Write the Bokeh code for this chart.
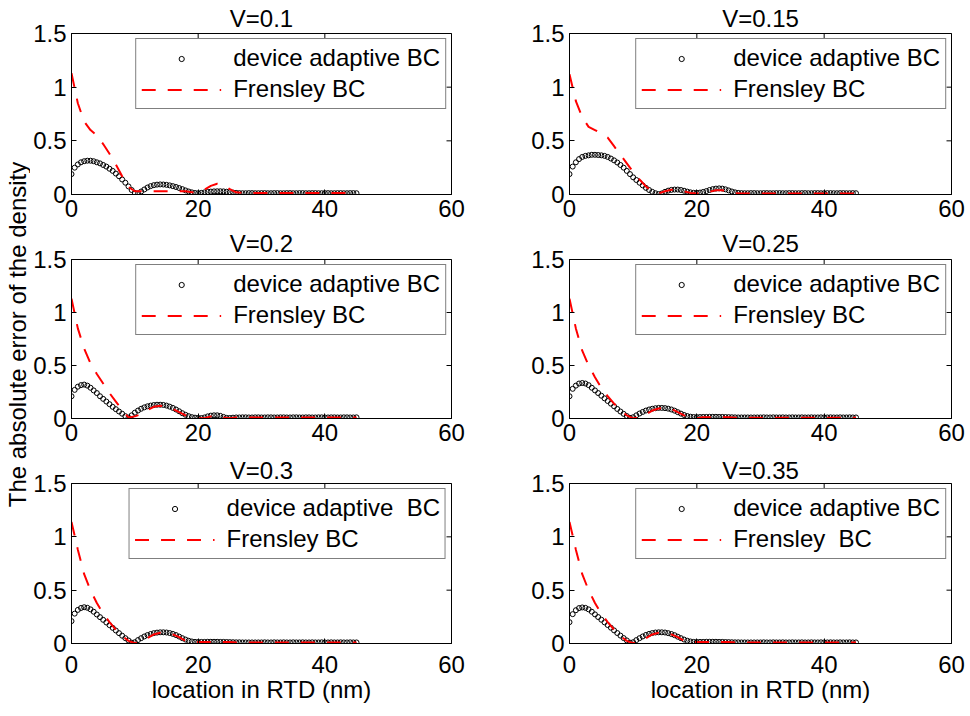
import math

from bokeh.embed import file_html
from bokeh.layouts import column, row
from bokeh.models import FixedTicker, Label, Legend, LegendItem, NumeralTickFormatter
from bokeh.plotting import figure
from bokeh.resources import INLINE

FONT = "Liberation Sans"
FS = "24px"

# ---- sample positions (nm) ----
adaptive_x = [
    0, 0.5, 1, 1.5, 2, 2.5, 3, 3.5, 4, 4.5, 5, 5.5, 6, 6.5, 7, 7.5, 8, 8.5, 9, 9.5,
    10, 10.5, 11, 11.5, 12, 12.5, 13, 13.5, 14, 14.5, 15, 15.5, 16, 16.5, 17, 17.5,
    18, 18.5, 19, 19.5, 20, 20.5, 21, 21.5, 22, 22.5, 23, 23.5, 24, 24.5, 25, 25.5,
    26, 26.5, 27, 27.5, 28, 28.5, 29, 29.5, 30, 30.5, 31, 31.5, 32, 32.5, 33, 33.5,
    34, 34.5, 35, 35.5, 36, 36.5, 37, 37.5, 38, 38.5, 39, 39.5, 40, 40.5, 41, 41.5,
    42, 42.5, 43, 43.5, 44, 44.5, 45,
]
frensley_x = [
    0, 1, 2, 3, 4, 5, 6, 7, 8, 9, 10, 11, 12, 13, 14, 15, 16, 17, 18, 19, 20, 21, 22,
    23, 24, 25, 26, 27, 28, 29, 30, 31, 32, 33, 34, 35, 36, 37, 38, 39, 40, 41, 42,
    43, 44, 45,
]

# ---- absolute density error, device adaptive BC ----
adaptive_v010 = [
    0.19, 0.25, 0.28, 0.30, 0.31, 0.315, 0.315, 0.31, 0.30, 0.29,
    0.275, 0.26, 0.24, 0.22, 0.195, 0.17, 0.14, 0.11, 0.075, 0.042,
    0.015, 0.01, 0.028, 0.047, 0.065, 0.078, 0.087, 0.092, 0.094, 0.093,
    0.09, 0.085, 0.078, 0.07, 0.06, 0.05, 0.038, 0.028, 0.02, 0.014,
    0.012, 0.015, 0.02, 0.024, 0.027, 0.029, 0.03, 0.03, 0.029, 0.026,
    0.022, 0.018, 0.015, 0.013, 0.012, 0.012, 0.013, 0.013, 0.012, 0.012,
    0.013, 0.013, 0.012, 0.012, 0.013, 0.013, 0.012, 0.012, 0.013, 0.013,
    0.012, 0.012, 0.013, 0.013, 0.012, 0.012, 0.013, 0.013, 0.012, 0.012,
    0.013, 0.013, 0.012, 0.012, 0.013, 0.013, 0.012, 0.012, 0.013, 0.013,
    0.012,
]
adaptive_v015 = [
    0.19, 0.26, 0.30, 0.33, 0.35, 0.36, 0.365, 0.37, 0.37, 0.368,
    0.365, 0.36, 0.35, 0.335, 0.318, 0.298, 0.275, 0.25, 0.22, 0.19,
    0.16, 0.135, 0.11, 0.085, 0.062, 0.042, 0.025, 0.012, 0.004, 0.01,
    0.025, 0.036, 0.043, 0.046, 0.046, 0.042, 0.035, 0.027, 0.02, 0.016,
    0.015, 0.018, 0.024, 0.032, 0.042, 0.05, 0.055, 0.057, 0.055, 0.048,
    0.038, 0.028, 0.02, 0.015, 0.013, 0.012, 0.012, 0.013, 0.013, 0.012,
    0.012, 0.013, 0.013, 0.012, 0.012, 0.013, 0.013, 0.012, 0.012, 0.013,
    0.013, 0.012, 0.012, 0.013, 0.013, 0.012, 0.012, 0.013, 0.013, 0.012,
    0.012, 0.013, 0.013, 0.012, 0.012, 0.013, 0.013, 0.012, 0.012, 0.013,
    0.012,
]
adaptive_v020 = [
    0.21, 0.27, 0.30, 0.315, 0.32, 0.31, 0.29, 0.265, 0.24, 0.21,
    0.185, 0.16, 0.135, 0.11, 0.088, 0.066, 0.045, 0.022, 0.008, 0.03,
    0.055, 0.075, 0.092, 0.105, 0.115, 0.122, 0.127, 0.13, 0.13, 0.128,
    0.122, 0.112, 0.10, 0.085, 0.068, 0.05, 0.035, 0.022, 0.013, 0.008,
    0.005, 0.004, 0.01, 0.02, 0.027, 0.03, 0.03, 0.025, 0.015, 0.006,
    0.005, 0.008, 0.01, 0.01, 0.011, 0.011, 0.01, 0.01, 0.011, 0.011,
    0.01, 0.01, 0.011, 0.011, 0.01, 0.01, 0.011, 0.011, 0.01, 0.01,
    0.011, 0.011, 0.01, 0.01, 0.011, 0.011, 0.01, 0.01, 0.011, 0.011,
    0.01, 0.01, 0.011, 0.011, 0.01, 0.01, 0.011, 0.011, 0.01, 0.01,
    0.011,
]
adaptive_v025 = [
    0.21, 0.28, 0.31, 0.33, 0.335, 0.33, 0.315, 0.29, 0.265, 0.24,
    0.215, 0.19, 0.165, 0.14, 0.115, 0.09, 0.066, 0.044, 0.023, 0.006,
    0.012, 0.03, 0.047, 0.062, 0.075, 0.085, 0.092, 0.097, 0.10, 0.10,
    0.098, 0.093, 0.085, 0.074, 0.06, 0.046, 0.033, 0.023, 0.017, 0.014,
    0.013, 0.014, 0.015, 0.015, 0.016, 0.016, 0.016, 0.015, 0.015, 0.014,
    0.013, 0.012, 0.011, 0.01, 0.01, 0.01, 0.01, 0.01, 0.01, 0.01,
    0.01, 0.011, 0.01, 0.01, 0.011, 0.01, 0.01, 0.011, 0.01, 0.01,
    0.011, 0.01, 0.01, 0.011, 0.01, 0.01, 0.011, 0.01, 0.01, 0.011,
    0.01, 0.01, 0.011, 0.01, 0.01, 0.011, 0.01, 0.01, 0.011, 0.01,
    0.01,
]
adaptive_v030 = [
    0.21, 0.28, 0.315, 0.333, 0.34, 0.335, 0.32, 0.298, 0.272, 0.247,
    0.222, 0.197, 0.172, 0.147, 0.122, 0.097, 0.073, 0.05, 0.028, 0.008,
    0.012, 0.032, 0.05, 0.066, 0.079, 0.089, 0.097, 0.102, 0.105, 0.105,
    0.103, 0.098, 0.09, 0.079, 0.065, 0.05, 0.037, 0.026, 0.019, 0.015,
    0.014, 0.015, 0.015, 0.016, 0.016, 0.016, 0.016, 0.015, 0.015, 0.014,
    0.013, 0.012, 0.011, 0.011, 0.01, 0.01, 0.01, 0.01, 0.01, 0.01,
    0.01, 0.011, 0.01, 0.01, 0.011, 0.01, 0.01, 0.011, 0.01, 0.01,
    0.011, 0.01, 0.01, 0.011, 0.01, 0.01, 0.011, 0.01, 0.01, 0.011,
    0.01, 0.01, 0.011, 0.01, 0.01, 0.011, 0.01, 0.01, 0.011, 0.01,
    0.01,
]
adaptive_v035 = [
    0.20, 0.275, 0.312, 0.332, 0.338, 0.334, 0.32, 0.298, 0.273, 0.248,
    0.223, 0.198, 0.173, 0.148, 0.123, 0.098, 0.074, 0.051, 0.029, 0.008,
    0.012, 0.032, 0.05, 0.066, 0.08, 0.09, 0.098, 0.103, 0.105, 0.105,
    0.103, 0.097, 0.089, 0.078, 0.064, 0.05, 0.037, 0.026, 0.019, 0.015,
    0.014, 0.015, 0.015, 0.016, 0.016, 0.016, 0.016, 0.015, 0.015, 0.014,
    0.013, 0.012, 0.011, 0.011, 0.01, 0.01, 0.01, 0.01, 0.01, 0.01,
    0.01, 0.011, 0.01, 0.01, 0.011, 0.01, 0.01, 0.011, 0.01, 0.01,
    0.011, 0.01, 0.01, 0.011, 0.01, 0.01, 0.011, 0.01, 0.01, 0.011,
    0.01, 0.01, 0.011, 0.01, 0.01, 0.011, 0.01, 0.01, 0.011, 0.01,
    0.01,
]

# ---- absolute density error, Frensley BC ----
frensley_v010 = [
    1.13, 0.85, 0.68, 0.60, 0.55, 0.47, 0.38, 0.28, 0.17, 0.07,
    0.03, 0.03, 0.03, 0.03, 0.03, 0.03, 0.03, 0.03, 0.03, 0.02,
    0.02, 0.045, 0.08, 0.10, 0.09, 0.05, 0.02, 0.015, 0.015, 0.015,
    0.015, 0.015, 0.015, 0.015, 0.015, 0.015, 0.015, 0.015, 0.015, 0.015,
    0.015, 0.015, 0.015, 0.015, 0.015, 0.015,
]
frensley_v015 = [
    1.12, 0.87, 0.72, 0.63, 0.60, 0.57, 0.53, 0.45, 0.37, 0.29,
    0.21, 0.14, 0.075, 0.03, 0.01, 0.03, 0.045, 0.045, 0.03, 0.015,
    0.01, 0.015, 0.025, 0.04, 0.04, 0.025, 0.012, 0.01, 0.01, 0.01,
    0.01, 0.01, 0.01, 0.01, 0.01, 0.01, 0.01, 0.01, 0.01, 0.01,
    0.01, 0.01, 0.01, 0.01, 0.01, 0.01,
]
frensley_v020 = [
    1.13, 0.85, 0.66, 0.52, 0.42, 0.33, 0.24, 0.16, 0.08, 0.01,
    0.02, 0.04, 0.08, 0.11, 0.12, 0.11, 0.09, 0.06, 0.03, 0.01,
    0.005, 0.003, 0.02, 0.03, 0.01, 0.003, 0.01, 0.01, 0.01, 0.01,
    0.01, 0.01, 0.01, 0.01, 0.01, 0.01, 0.01, 0.01, 0.01, 0.01,
    0.01, 0.01, 0.01, 0.01, 0.01, 0.01,
]
frensley_v025 = [
    1.13, 0.85, 0.64, 0.50, 0.39, 0.29, 0.21, 0.14, 0.08, 0.03,
    0.002, 0.01, 0.04, 0.075, 0.095, 0.10, 0.09, 0.06, 0.03, 0.008,
    0.003, 0.012, 0.012, 0.012, 0.012, 0.012, 0.008, 0.008, 0.008, 0.008,
    0.008, 0.008, 0.008, 0.008, 0.008, 0.008, 0.008, 0.008, 0.008, 0.008,
    0.008, 0.008, 0.008, 0.008, 0.008, 0.008,
]
frensley_v030 = [
    1.14, 0.88, 0.65, 0.50, 0.38, 0.28, 0.20, 0.13, 0.07, 0.025,
    0.002, 0.02, 0.05, 0.085, 0.10, 0.10, 0.085, 0.06, 0.025, 0.015,
    0.015, 0.015, 0.015, 0.015, 0.015, 0.013, 0.01, 0.01, 0.01, 0.01,
    0.01, 0.01, 0.01, 0.01, 0.01, 0.01, 0.01, 0.01, 0.01, 0.01,
    0.01, 0.01, 0.01, 0.01, 0.01, 0.01,
]
frensley_v035 = [
    1.14, 0.88, 0.65, 0.50, 0.38, 0.28, 0.20, 0.13, 0.07, 0.025,
    0.002, 0.02, 0.05, 0.085, 0.10, 0.10, 0.085, 0.06, 0.025, 0.015,
    0.015, 0.015, 0.015, 0.015, 0.015, 0.013, 0.01, 0.01, 0.01, 0.01,
    0.01, 0.01, 0.01, 0.01, 0.01, 0.01, 0.01, 0.01, 0.01, 0.01,
    0.01, 0.01, 0.01, 0.01, 0.01, 0.01,
]

titles = ["V=0.1", "V=0.15", "V=0.2", "V=0.25", "V=0.3", "V=0.35"]
adaptive_labels = ["device adaptive BC", "device adaptive BC", "device adaptive BC",
                   "device adaptive BC", "device adaptive  BC", "device adaptive BC"]
frensley_labels = ["Frensley BC", "Frensley BC", "Frensley BC",
                   "Frensley BC", "Frensley BC", "Frensley  BC"]
adaptive_series = [adaptive_v010, adaptive_v015, adaptive_v020,
                   adaptive_v025, adaptive_v030, adaptive_v035]
frensley_series = [frensley_v010, frensley_v015, frensley_v020,
                   frensley_v025, frensley_v030, frensley_v035]

x_ticks = [0, 20, 40, 60]
y_ticks = [0, 0.5, 1, 1.5]

LABEL_W = 30


def panel(i, col, r):
    width = 455 if col == 0 else 485
    b_left = 39 if col == 0 else 84
    b_right = width - b_left - 382
    height = 266 if r == 2 else 225
    frame_h = 161 if r == 0 else 160
    b_top = 33
    b_bottom = height - b_top - frame_h

    p = figure(width=width, height=height, x_range=(0, 60), y_range=(0, 1.5),
               output_backend="svg", toolbar_location=None,
               min_border_left=b_left, min_border_right=b_right,
               min_border_top=b_top, min_border_bottom=b_bottom,
               background_fill_color="white", border_fill_color="white",
               outline_line_color="black", outline_line_width=1)
    p.grid.visible = False

    p.title.text = titles[i]
    p.title.align = "center"
    p.title.text_font = FONT
    p.title.text_font_size = FS
    p.title.text_font_style = "normal"
    p.title.text_color = "black"
    p.title.standoff = [3, 5, 0][r]

    p.xaxis.ticker = FixedTicker(ticks=x_ticks)
    p.yaxis.ticker = FixedTicker(ticks=y_ticks)
    p.yaxis.formatter = NumeralTickFormatter(format="0.[0]")
    for ax in (p.xaxis[0], p.yaxis[0]):
        ax.major_tick_in = 5
        ax.major_tick_out = 0
        ax.minor_tick_line_color = None
        ax.axis_line_color = "black"
        ax.major_tick_line_color = "black"
        ax.major_label_text_font = FONT
        ax.major_label_text_font_size = FS
        ax.major_label_text_color = "black"
    p.yaxis.major_label_standoff = 5
    p.xaxis.major_label_standoff = [5, 5, 12][r]

    if r == 2:
        p.xaxis.axis_label = "location in RTD (nm)"
        p.xaxis.axis_label_text_font = FONT
        p.xaxis.axis_label_text_font_size = FS
        p.xaxis.axis_label_text_font_style = "normal"
        p.xaxis.axis_label_text_color = "black"
        p.xaxis.axis_label_standoff = 0

    # tick marks mirrored on the top and right edges of the box
    # (dashes centred on the edge; the frame clips the outer half)
    p.scatter(x_ticks, [1.5] * len(x_ticks), marker="dash", angle=math.pi / 2,
              size=10, line_color="black", line_width=1)
    p.scatter([60] * len(y_ticks), y_ticks, marker="dash",
              size=10, line_color="black", line_width=1)

    circ = p.scatter(adaptive_x, adaptive_series[i], marker="circle", size=5,
                     line_color="black", line_width=1, fill_color=None)
    dash = p.line(frensley_x, frensley_series[i], line_color="#ff0000",
                  line_width=2, line_dash="14 12")

    legend = Legend(items=[LegendItem(label=adaptive_labels[i], renderers=[circ]),
                           LegendItem(label=frensley_labels[i], renderers=[dash])],
                    location="top_right", margin=5, padding=5, spacing=3,
                    glyph_width=80, glyph_height=13, label_height=28,
                    label_standoff=12,
                    label_text_font=FONT, label_text_font_size=FS,
                    label_text_color="black",
                    border_line_color="black", border_line_width=1,
                    background_fill_color="white", background_fill_alpha=1)
    p.add_layout(legend)
    return p


panels = [panel(2 * r + c, c, r) for r in range(3) for c in range(2)]

# shared y-axis title in its own strip
ylab = figure(width=LABEL_W, height=716, x_range=(0, LABEL_W), y_range=(0, 716),
              output_backend="svg", toolbar_location=None, min_border=0,
              x_axis_type=None, y_axis_type=None, outline_line_color=None,
              border_fill_color="white", background_fill_color="white")
ylab.grid.visible = False
ylab.add_layout(Label(x=16.5, y=716 - 334, text="The absolute error of the density",
                      angle=math.pi / 2, text_align="center",
                      text_baseline="middle", text_font=FONT,
                      text_font_size=FS, text_color="black"))

grid = column(row(panels[0], panels[1]),
              row(panels[2], panels[3]),
              row(panels[4], panels[5]))
layout = row(ylab, grid)

open("out.html", "w").write(file_html(layout, INLINE))
